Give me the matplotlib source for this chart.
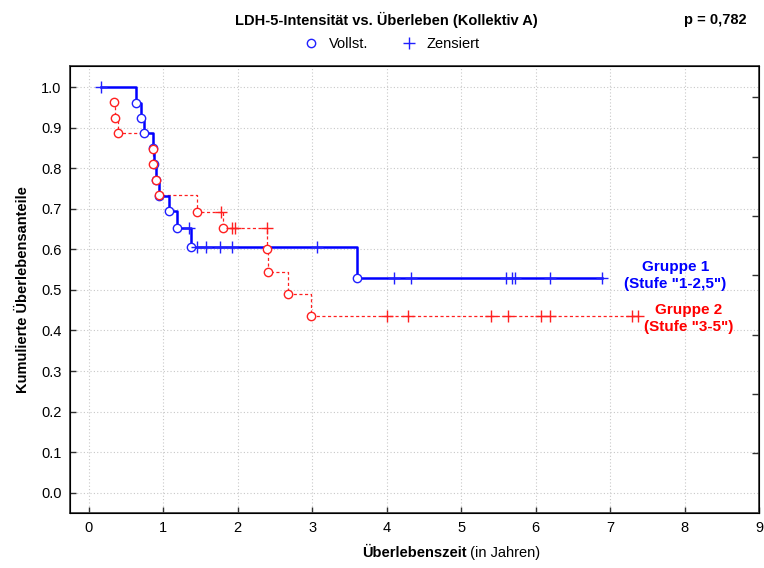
import matplotlib
matplotlib.use('Agg')
import matplotlib.pyplot as plt
from matplotlib.lines import Line2D

plt.rcParams['font.family'] = ['Liberation Sans', 'DejaVu Sans']

# Gruppe 1 (Stufe "1-2,5"): completed (events) and censored observations
g1_event_t = [0.64, 0.70, 0.74, 0.87, 0.88, 0.91, 0.95, 1.08, 1.18, 1.37, 3.60]
g1_event_s = [0.962, 0.925, 0.887, 0.850, 0.810, 0.770, 0.731, 0.695, 0.652, 0.605, 0.530]
g1_cens_t = [0.17, 1.35, 1.45, 1.58, 1.76, 1.92, 3.06, 4.10, 4.33, 5.60, 5.68, 5.72, 6.20, 6.89]
g1_cens_s = [1.0, 0.652, 0.605, 0.605, 0.605, 0.605, 0.605, 0.530, 0.530, 0.530, 0.530, 0.530, 0.530, 0.530]

# Gruppe 2 (Stufe "3-5")
g2_event_t = [0.34, 0.36, 0.40, 0.87, 0.87, 0.91, 0.95, 1.45, 1.81, 2.40, 2.41, 2.67, 2.98]
g2_event_s = [0.963, 0.925, 0.887, 0.847, 0.810, 0.770, 0.733, 0.692, 0.653, 0.600, 0.545, 0.490, 0.436]
g2_cens_t = [1.78, 1.92, 1.96, 2.39, 4.00, 4.29, 5.40, 5.63, 6.07, 6.20, 7.30, 7.37]
g2_cens_s = [0.692, 0.653, 0.653, 0.653, 0.436, 0.436, 0.436, 0.436, 0.436, 0.436, 0.436, 0.436]

x_ticks = list(range(0, 10))
y_ticks = [round(0.1 * i, 1) for i in range(11)]


def step_path(et, es, ct, cs):
    pts = sorted(zip(et + ct, es + cs), key=lambda p: (p[0], -p[1]))
    return [p[0] for p in pts], [p[1] for p in pts]


fig = plt.figure(figsize=(7.64, 5.68), dpi=100)
ax = fig.add_axes([70 / 764, 1 - 513 / 568, 689 / 764, 447 / 568])

grid_kw = dict(color='#c8c8c8', lw=0.8, ls=(0, (1, 2)), zorder=0)
for xt in x_ticks:
    ax.axvline(xt, **grid_kw)
for yt in y_ticks:
    ax.axhline(yt, **grid_kw)

# step lines
x2, y2 = step_path(g2_event_t, g2_event_s, g2_cens_t, g2_cens_s)
ax.plot(x2, y2, drawstyle='steps-post', color='#ff2020', lw=0.9, ls=(0, (2.5, 2)), zorder=2)
x1, y1 = step_path(g1_event_t, g1_event_s, g1_cens_t, g1_cens_s)
ax.plot(x1, y1, drawstyle='steps-post', color='#0000ff', lw=1.8, zorder=3)

# markers
ax.plot(g1_event_t, g1_event_s, 'o', ms=6, mfc='white', mec='#2020ff', mew=1, zorder=4)
ax.plot(g1_cens_t, g1_cens_s, '+', ms=8, mec='#2020ff', mew=1, zorder=4)
ax.plot(g2_event_t, g2_event_s, 'o', ms=6, mfc='white', mec='#ff2020', mew=1, zorder=5)
ax.plot(g2_cens_t, g2_cens_s, '+', ms=8, mec='#ff2020', mew=1, zorder=5)

ax.set_xlim(-0.25, 9)
ax.set_ylim(-0.05, 1.052)
ax.set_xticks(x_ticks)
ax.set_yticks(y_ticks)
ax.set_yticklabels([f'{v:.1f}' for v in y_ticks])
ax.tick_params(direction='in', length=4, width=1, labelsize=10.5, color='#303030')
ax.tick_params(axis='x', pad=6)
ax.tick_params(axis='y', pad=6)
for sp in ax.spines.values():
    sp.set_linewidth(1.3)
    sp.set_color('#404040')

# unlabeled inner ticks on the right border
ax2 = ax.twinx()
ax2.set_ylim(ax.get_ylim())
ax2.set_yticks([0.975, 0.828, 0.682, 0.536, 0.390, 0.244, 0.098])
ax2.tick_params(direction='in', length=5, width=1, labelright=False, color='#303030')

ax.set_ylabel('Kumulierte Überlebensanteile', fontsize=10.5, fontweight='bold', labelpad=8)
xl = ax.text(0.5 + 52 / 689, -40 / 447, 'Überlebenszeit', transform=ax.transAxes,
             fontsize=10.5, fontweight='bold', ha='right', va='center')
ax.annotate(' (in Jahren)', xy=(1, 0.5), xycoords=xl, fontsize=10.5, ha='left', va='center')

ax.text(7.88, 0.536, 'Gruppe 1\n(Stufe "1-2,5")', color='#0000ff', fontsize=11,
        fontweight='bold', ha='center', va='center', linespacing=1.25)
ax.text(8.06, 0.429, 'Gruppe 2\n(Stufe "3-5")', color='#ff0000', fontsize=11,
        fontweight='bold', ha='center', va='center', linespacing=1.25)

fig.text(386 / 764, 1 - 20 / 568, 'LDH-5-Intensität vs. Überleben (Kollektiv A)',
         fontsize=10.5, fontweight='bold', ha='center', va='center')
fig.text(715 / 764, 1 - 20 / 568, 'p = 0,782', fontsize=10.5, fontweight='bold',
         ha='center', va='center')

handles = [Line2D([], [], ls='none', marker='o', ms=6, mfc='white', mec='#2020ff', mew=1),
           Line2D([], [], ls='none', marker='+', ms=8, mec='#2020ff', mew=1)]
fig.legend(handles, ['Vollst.', 'Zensiert'], loc='center', ncol=2, frameon=False,
           bbox_to_anchor=(391 / 764, 1 - 44 / 568), fontsize=10.5, handlelength=1.2,
           handletextpad=0.6, columnspacing=2.2)

fig.savefig('out.png', dpi=100)
